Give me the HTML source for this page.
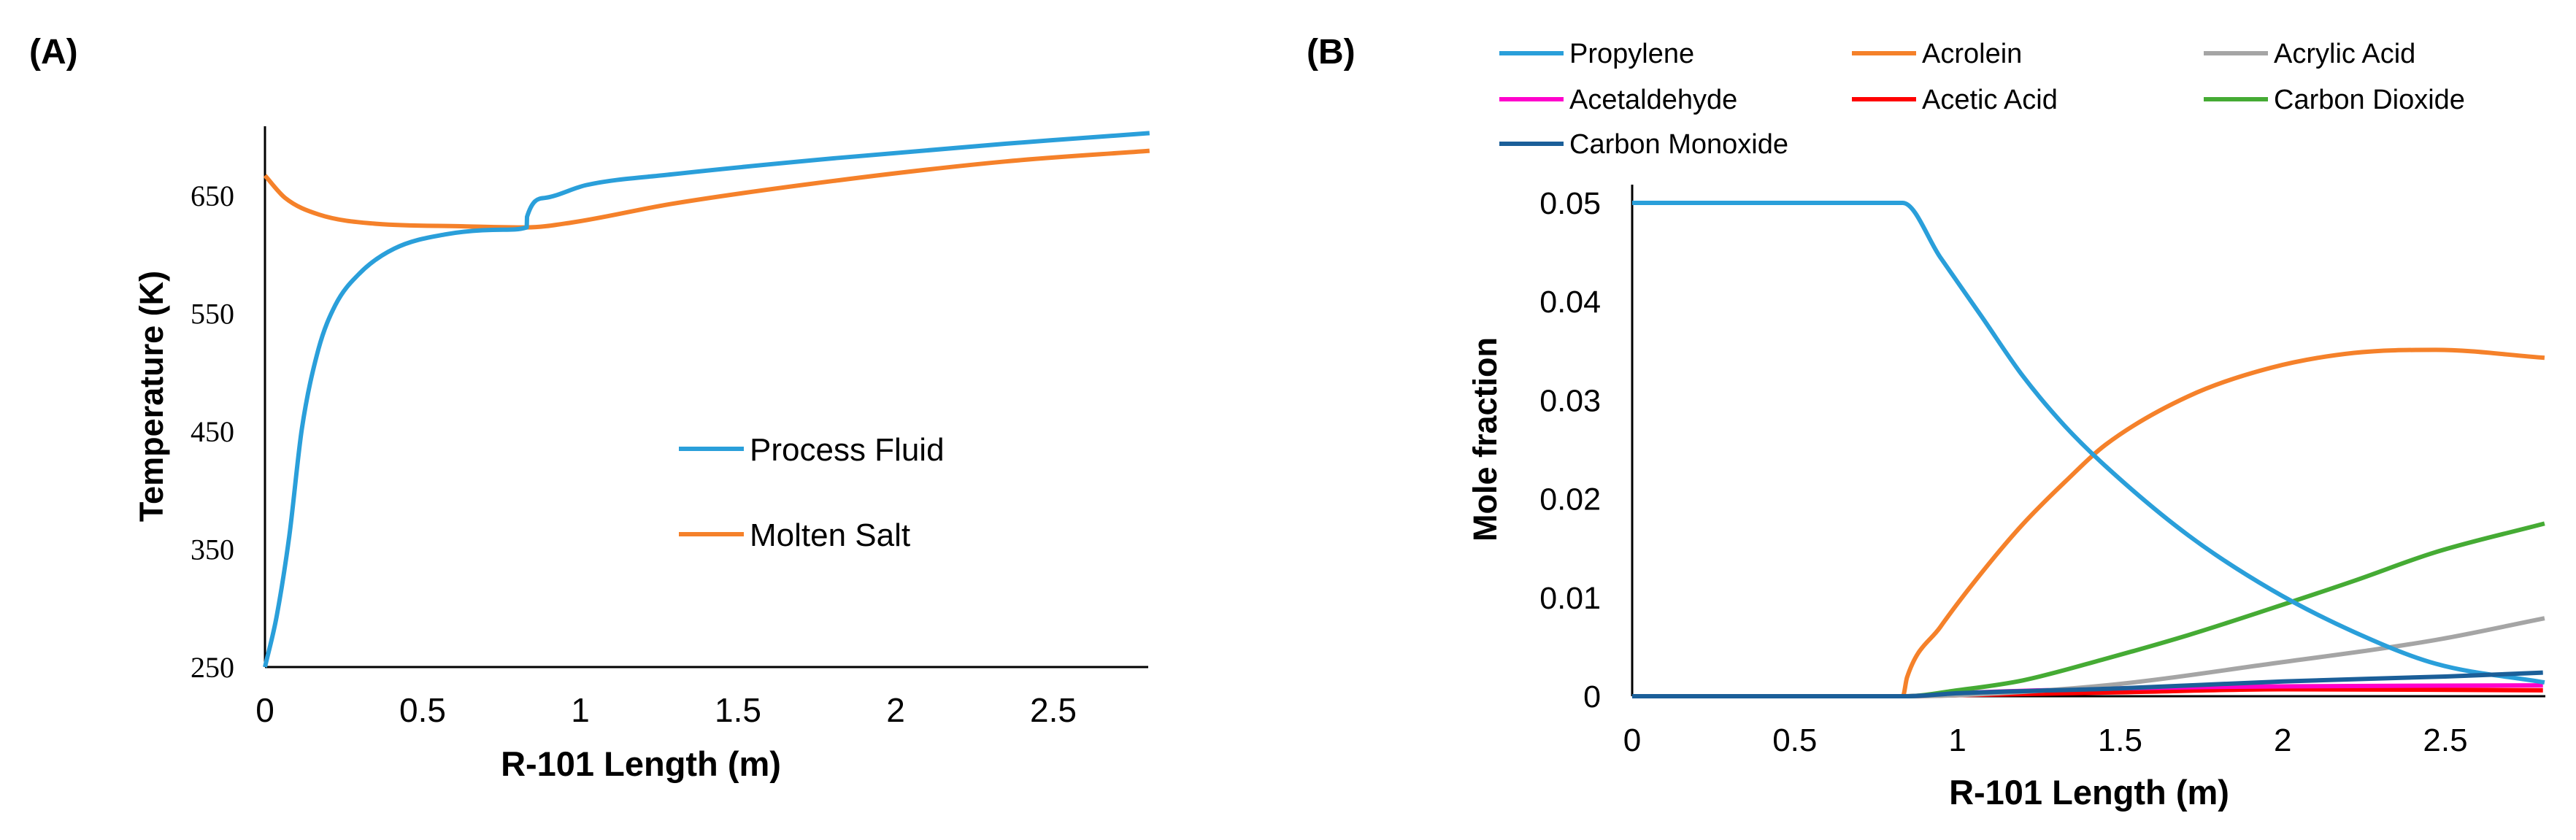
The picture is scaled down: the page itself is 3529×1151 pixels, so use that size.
<!DOCTYPE html>
<html><head><meta charset="utf-8"><style>
html,body{margin:0;padding:0;background:#fff;}
svg{display:block;}
</style></head><body>
<svg id="fig" width="3529" height="1151" viewBox="0 0 3529 1151" xmlns="http://www.w3.org/2000/svg">
<rect width="3529" height="1151" fill="#fff"/>
<text x="40" y="87" font-family="Liberation Sans, sans-serif" font-weight="bold" font-size="48">(A)</text>
<text x="1790" y="87" font-family="Liberation Sans, sans-serif" font-weight="bold" font-size="48">(B)</text>
<g id="chartA"></g>
<g id="chartB"></g>
</svg>
<script>
// ---- Chart A data ----
const pfX = [0,0.037,0.077,0.117,0.17,0.223,0.30,0.41,0.57,0.755,0.83,0.831,0.887,1.02,1.29,1.82,2.35,2.805];
const pfT = [250,293,361,452,520,557,584,605,617,621,623,632,648,659,668,682,694,703];
const msX = [0,0.064,0.17,0.356,0.62,0.83,0.97,1.29,1.82,2.35,2.805];
const msT = [667,648,634,626,624,623,627,643,663,679,688];
const aYTicks = [250,350,450,550,650];
const aXTicks = [0,0.5,1,1.5,2,2.5];
const aXLabels = ["0","0.5","1","1.5","2","2.5"];

// ---- Chart B data ----
const bXTicks = [0,0.5,1,1.5,2,2.5];
const bXLabels = ["0","0.5","1","1.5","2","2.5"];
const bYTicks = [0,0.01,0.02,0.03,0.04,0.05];
const bYLabels = ["0","0.01","0.02","0.03","0.04","0.05"];
const propX = [0,0.832,0.947,1.074,1.20,1.33,1.456,1.71,1.965,2.22,2.47,2.805];
const propY = [0.05,0.05,0.0445,0.0385,0.0325,0.0274,0.0233,0.0163,0.0108,0.0065,0.0033,0.0014];
const acroX = [0,0.832,0.845,0.947,1.074,1.20,1.33,1.456,1.71,1.965,2.22,2.47,2.805];
const acroY = [0,0,0.0019,0.007,0.0125,0.0174,0.0217,0.0255,0.0304,0.0333,0.0348,0.0351,0.0343];
const co2X = [0,0.84,1.0,1.2,1.456,1.71,1.965,2.22,2.47,2.805];
const co2Y = [0,0,0.0006,0.0016,0.0038,0.0062,0.0089,0.0117,0.0146,0.0175];
const acrylX = [0,0.84,1.0,1.456,1.965,2.47,2.805];
const acrylY = [0,0,0.0001,0.0011,0.0033,0.0057,0.0079];
const acetaldX = [0,0.84,1.0,1.5,2.0,2.8];
const acetaldY = [0,0,0.0003,0.0008,0.001,0.0011];
const aceticX = [0,0.84,1.0,1.5,2.0,2.8];
const aceticY = [0,0,0.0001,0.0004,0.0007,0.0006];
const coX = [0,0.84,1.0,1.5,2.0,2.5,2.8];
const coY = [0,0,0.0003,0.0008,0.0015,0.002,0.0024];

const NS = "http://www.w3.org/2000/svg";
function mk(tag, attrs, parent){const e=document.createElementNS(NS,tag);for(const k in attrs)e.setAttribute(k,attrs[k]);parent.appendChild(e);return e;}

// monotone cubic (Fritsch-Carlson) path in pixel space
function pathD(xs,ys,fx,fy){
  const px = xs.map(fx), py = ys.map(fy), n = px.length;
  if(n<3) return px.map((x,i)=>(i?'L':'M')+x.toFixed(1)+' '+py[i].toFixed(1)).join(' ');
  const d=[], m=new Array(n);
  for(let i=0;i<n-1;i++){const dx=px[i+1]-px[i]; d.push(dx===0?0:(py[i+1]-py[i])/dx);}
  m[0]=d[0]; m[n-1]=d[n-2];
  for(let i=1;i<n-1;i++){ m[i] = (d[i-1]*d[i]<=0)?0:(d[i-1]+d[i])/2; }
  for(let i=0;i<n-1;i++){
    if(d[i]===0){m[i]=0;m[i+1]=0;continue;}
    const a=m[i]/d[i], b=m[i+1]/d[i], s=a*a+b*b;
    if(s>9){const t=3/Math.sqrt(s); m[i]=t*a*d[i]; m[i+1]=t*b*d[i];}
  }
  let out='M'+px[0].toFixed(1)+' '+py[0].toFixed(1);
  for(let i=0;i<n-1;i++){
    const h=(px[i+1]-px[i])/3;
    if(h<=0.2){out+=' L'+px[i+1].toFixed(1)+' '+py[i+1].toFixed(1);continue;}
    out+=' C'+(px[i]+h).toFixed(1)+' '+(py[i]+m[i]*h).toFixed(1)+' '+(px[i+1]-h).toFixed(1)+' '+(py[i+1]-m[i+1]*h).toFixed(1)+' '+px[i+1].toFixed(1)+' '+py[i+1].toFixed(1);
  }
  return out;
}

// ---- Chart A ----
const gA = document.getElementById('chartA');
const axA = v => 363 + v*432;
const ayA = t => 914 - (t-250)*1.615;
let e;
e = mk('line',{x1:363,y1:173,x2:363,y2:914,stroke:'#000','stroke-width':3},gA);
 
e = mk('line',{x1:363,y1:914,x2:1573,y2:914,stroke:'#000','stroke-width':3},gA);
 
aYTicks.forEach(t=>{
  const tx = mk('text',{x:321,y:ayA(t)+14,'text-anchor':'end','font-family':'Liberation Serif, serif','font-size':40},gA);
  tx.textContent = t;
  
  
});
aXTicks.forEach((v,i)=>{
  const tx = mk('text',{x:axA(v),y:989,'text-anchor':'middle','font-family':'Liberation Sans, sans-serif','font-size':46},gA);
  tx.textContent = aXLabels[i];
  
  
});
e = mk('text',{x:878,y:1063,'text-anchor':'middle','font-family':'Liberation Sans, sans-serif','font-weight':'bold','font-size':47},gA);
e.textContent='R-101 Length (m)';
 
e = mk('text',{x:0,y:0,'text-anchor':'middle','font-family':'Liberation Sans, sans-serif','font-weight':'bold','font-size':45,transform:'translate(223,543) rotate(-90)'},gA);
e.textContent='Temperature (K)';
 
e = mk('path',{d:pathD(msX,msT,axA,ayA),fill:'none',stroke:'#F5812A','stroke-width':6,'stroke-linejoin':'round'},gA);
 
e = mk('path',{d:pathD(pfX,pfT,axA,ayA),fill:'none',stroke:'#2A9FDA','stroke-width':6,'stroke-linejoin':'round'},gA);
 
// legend A
e = mk('line',{x1:930,y1:615,x2:1019,y2:615,stroke:'#2A9FDA','stroke-width':6},gA);
 
e = mk('text',{x:1027,y:631,'font-family':'Liberation Sans, sans-serif','font-size':44},gA);
e.textContent='Process Fluid';
 
e = mk('line',{x1:930,y1:732,x2:1019,y2:732,stroke:'#F5812A','stroke-width':6},gA);
 
e = mk('text',{x:1027,y:748,'font-family':'Liberation Sans, sans-serif','font-size':44},gA);
e.textContent='Molten Salt';
 

// ---- Chart B ----
const gB = document.getElementById('chartB');
const axB = v => 2236 + v*445.6;
const ayB = v => 954 - v*13520;
e = mk('line',{x1:2236,y1:253,x2:2236,y2:954,stroke:'#000','stroke-width':3},gB);
 
e = mk('line',{x1:2236,y1:954,x2:3487,y2:954,stroke:'#000','stroke-width':3},gB);
 
bYTicks.forEach((v,i)=>{
  const tx = mk('text',{x:2193,y:ayB(v)+15,'text-anchor':'end','font-family':'Liberation Sans, sans-serif','font-size':43},gB);
  tx.textContent = bYLabels[i];
  
  
});
bXTicks.forEach((v,i)=>{
  const tx = mk('text',{x:axB(v),y:1029,'text-anchor':'middle','font-family':'Liberation Sans, sans-serif','font-size':44},gB);
  tx.textContent = bXLabels[i];
  
  
});
e = mk('text',{x:2862,y:1102,'text-anchor':'middle','font-family':'Liberation Sans, sans-serif','font-weight':'bold','font-size':47},gB);
e.textContent='R-101 Length (m)';
 
e = mk('text',{x:0,y:0,'text-anchor':'middle','font-family':'Liberation Sans, sans-serif','font-weight':'bold','font-size':45,transform:'translate(2050,602) rotate(-90)'},gB);
e.textContent='Mole fraction';
 

const series = [
  {n:'Acetic Acid',xs:aceticX,ys:aceticY,c:'#FF0000',k:'acetic-acid'},
  {n:'Acetaldehyde',xs:acetaldX,ys:acetaldY,c:'#FF00CC',k:'acetaldehyde'},
  {n:'Acrylic Acid',xs:acrylX,ys:acrylY,c:'#A5A5A5',k:'acrylic-acid'},
  {n:'Carbon Dioxide',xs:co2X,ys:co2Y,c:'#45AB34',k:'carbon-dioxide'},
  {n:'Acrolein',xs:acroX,ys:acroY,c:'#F5812A',k:'acrolein'},
  {n:'Propylene',xs:propX,ys:propY,c:'#2A9FDA',k:'propylene'},
  {n:'Carbon Monoxide',xs:coX,ys:coY,c:'#1B5F99',k:'carbon-monoxide'}
];
series.forEach(s=>{
  const p = mk('path',{d:pathD(s.xs,s.ys,axB,ayB),fill:'none',stroke:s.c,'stroke-width':6,'stroke-linejoin':'round'},gB);
  
  
});
// legend B
const legOrder = ['Propylene','Acrolein','Acrylic Acid','Acetaldehyde','Acetic Acid','Carbon Dioxide','Carbon Monoxide'];
const legCols = [2054,2537,3019];
const legRows = [73,136,197];
legOrder.forEach((name,i)=>{
  const s = series.find(q=>q.n===name);
  const x = legCols[i%3], y = legRows[Math.floor(i/3)];
  const l = mk('line',{x1:x,y1:y,x2:x+88,y2:y,stroke:s.c,'stroke-width':6},gB);
  
  
  const t = mk('text',{x:x+96,y:y+13,'font-family':'Liberation Sans, sans-serif','font-size':38},gB);
  t.textContent = name;
  
  
});
</script>
</body></html>
